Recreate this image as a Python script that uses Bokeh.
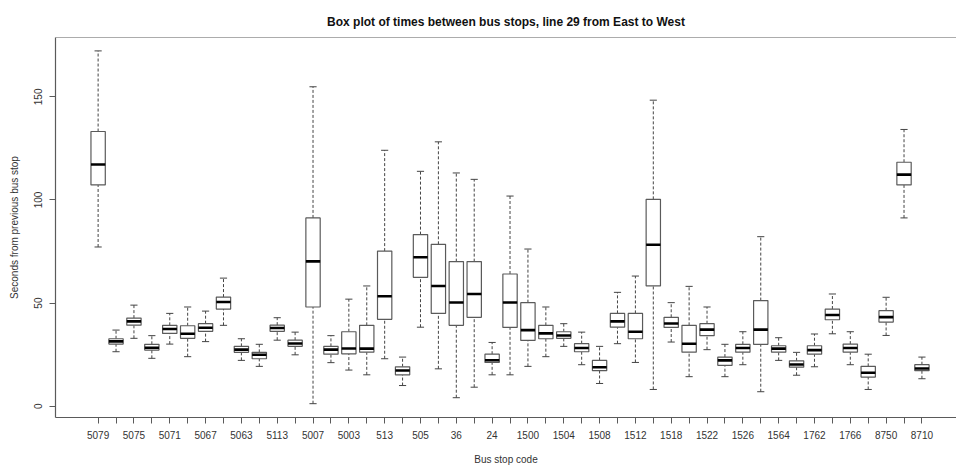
import numpy as np
from bokeh.plotting import figure
from bokeh.models import Range1d, FixedTicker, Span, ColumnDataSource
from bokeh.embed import file_html
from bokeh.resources import INLINE

# Bus stop codes (R hides every other label because of overlap)
stop_labels = ["5079", "", "5075", "", "5071", "", "5067", "", "5063", "", "5113", "",
               "5007", "", "5003", "", "513", "", "505", "", "36", "", "24", "",
               "1500", "", "1504", "", "1508", "", "1512", "", "1518", "", "1522", "",
               "1526", "", "1564", "", "1762", "", "1766", "", "8750", "", "8710"]

whisker_low = [77.2, 26.4, 32.9, 23.2, 30.1, 24.0, 31.3, 39.2, 22.2, 19.3, 32.0, 24.9,
               1.2, 21.1, 17.5, 15.2, 23.0, 10.0, 38.3, 18.1, 4.1, 9.2, 15.2, 15.2,
               19.3, 24.0, 29.0, 20.1, 11.0, 30.3, 21.2, 8.1, 31.1, 14.3, 27.4, 14.3,
               20.1, 7.0, 22.2, 15.0, 19.1, 35.1, 20.1, 8.1, 34.3, 91.3, 13.3]
quartile1 = [107.3, 30.1, 39.3, 27.2, 35.3, 32.9, 36.3, 47.1, 26.1, 23.0, 36.3, 29.0,
             48.1, 25.2, 25.4, 26.2, 42.1, 15.2, 62.5, 45.0, 39.2, 43.1, 21.2, 38.2,
             31.9, 32.7, 32.9, 26.4, 17.2, 38.3, 32.7, 58.3, 38.2, 26.2, 34.2, 19.8,
             26.2, 30.0, 26.2, 18.9, 25.2, 41.9, 26.2, 14.1, 40.8, 107.3, 17.2]
medians = [117.2, 31.4, 41.1, 28.3, 37.4, 35.1, 38.0, 50.5, 27.4, 24.9, 37.9, 30.4,
           70.2, 27.4, 28.0, 27.9, 53.3, 17.3, 72.2, 58.3, 50.3, 54.4, 22.3, 50.3,
           36.9, 35.3, 34.3, 28.2, 18.9, 41.1, 36.1, 78.3, 40.1, 30.3, 37.1, 22.2,
           28.2, 37.1, 27.9, 20.2, 27.2, 44.2, 28.2, 16.2, 43.2, 112.3, 18.3]
quartile3 = [133.2, 32.7, 42.7, 30.0, 39.2, 39.0, 40.0, 52.9, 29.0, 26.1, 39.3, 32.0,
             91.3, 29.0, 36.1, 39.2, 75.2, 19.1, 83.2, 78.5, 70.1, 70.1, 25.2, 64.1,
             50.2, 39.2, 36.1, 30.3, 22.2, 45.0, 45.0, 100.3, 43.1, 39.2, 40.0, 23.8,
             30.0, 51.2, 29.3, 22.0, 29.3, 47.1, 30.1, 19.3, 46.3, 118.3, 20.1]
whisker_high = [172.3, 36.9, 49.0, 34.2, 45.0, 48.1, 46.1, 62.1, 32.7, 30.0, 42.9, 35.9,
                154.9, 34.2, 51.9, 58.3, 124.1, 23.8, 113.9, 128.2, 113.1, 110.0, 30.9, 101.9,
                76.2, 48.1, 40.0, 35.9, 29.0, 55.2, 63.1, 148.4, 50.2, 58.1, 48.1, 30.0,
                36.1, 82.2, 33.2, 26.1, 35.0, 54.4, 36.1, 25.2, 52.8, 134.2, 23.8]

y_ticks = [0, 50, 100, 150]

n = len(stop_labels)
for arr in (whisker_low, quartile1, medians, quartile3, whisker_high):
    assert len(arr) == n

pos = np.arange(n, dtype=float)
box_half = 0.4
cap_half = 0.2

src = ColumnDataSource(dict(
    x=pos, lo=whisker_low, q1=quartile1, med=medians, q3=quartile3, hi=whisker_high,
    bl=pos - box_half, br=pos + box_half, cl=pos - cap_half, cr=pos + cap_half,
))

FONT = "Liberation Sans"
LINE = "#5a5a5a"
TXT = "#333333"

p = figure(width=956, height=469, output_backend="svg", toolbar_location=None,
           x_range=Range1d(-2.38, 47.93), y_range=Range1d(-5.5, 178.8),
           min_border_left=55, min_border_right=0, min_border_top=37, min_border_bottom=52,
           title="Box plot of times between bus stops, line 29 from East to West")
p.outline_line_color = None
p.xgrid.visible = False
p.ygrid.visible = False
p.background_fill_color = "white"
p.border_fill_color = "white"

p.title.align = "center"
p.title.text_font = FONT
p.title.text_font_size = "12px"
p.title.text_font_style = "bold"
p.title.text_color = "#111111"
p.title.offset = 0
p.title.standoff = 18

# whiskers
p.segment(x0="x", y0="q3", x1="x", y1="hi", source=src, line_color="#444444",
          line_dash="3 2", line_width=1)
p.segment(x0="x", y0="lo", x1="x", y1="q1", source=src, line_color="#444444",
          line_dash="3 2", line_width=1)
# staples
p.segment(x0="cl", y0="hi", x1="cr", y1="hi", source=src, line_color="#444444", line_width=1)
p.segment(x0="cl", y0="lo", x1="cr", y1="lo", source=src, line_color="#444444", line_width=1)
# boxes
p.quad(left="bl", right="br", bottom="q1", top="q3", source=src,
       fill_color="white", line_color=LINE, line_width=1.2)
# medians
p.segment(x0="bl", y0="med", x1="br", y1="med", source=src, line_color="#000000", line_width=2.6)

# top border of plotting box
p.add_layout(Span(location=178.8, dimension="width", line_color=LINE, line_width=1.2))

# axes
xa = p.xaxis[0]
xa.ticker = FixedTicker(ticks=list(range(n)))
xa.major_label_overrides = {i: lab for i, lab in enumerate(stop_labels)}
xa.minor_tick_line_color = None
xa.major_tick_in = 0
xa.major_tick_out = 6
xa.major_label_standoff = 7
xa.axis_label = "Bus stop code"
xa.axis_label_standoff = 12

ya = p.yaxis[0]
ya.ticker = FixedTicker(ticks=y_ticks)
ya.minor_tick_line_color = None
ya.major_tick_in = 0
ya.major_tick_out = 6
ya.major_label_orientation = "vertical"
ya.major_label_standoff = 7
ya.axis_label = "Seconds from previous bus stop"
ya.axis_label_standoff = 12

for ax in (xa, ya):
    ax.axis_line_color = LINE
    ax.axis_line_width = 1.2
    ax.major_tick_line_color = LINE
    ax.major_label_text_font = FONT
    ax.major_label_text_font_size = "10px"
    ax.major_label_text_color = TXT
    ax.axis_label_text_font = FONT
    ax.axis_label_text_font_size = "10px"
    ax.axis_label_text_font_style = "normal"
    ax.axis_label_text_color = TXT

open("out.html", "w").write(file_html(p, INLINE))
